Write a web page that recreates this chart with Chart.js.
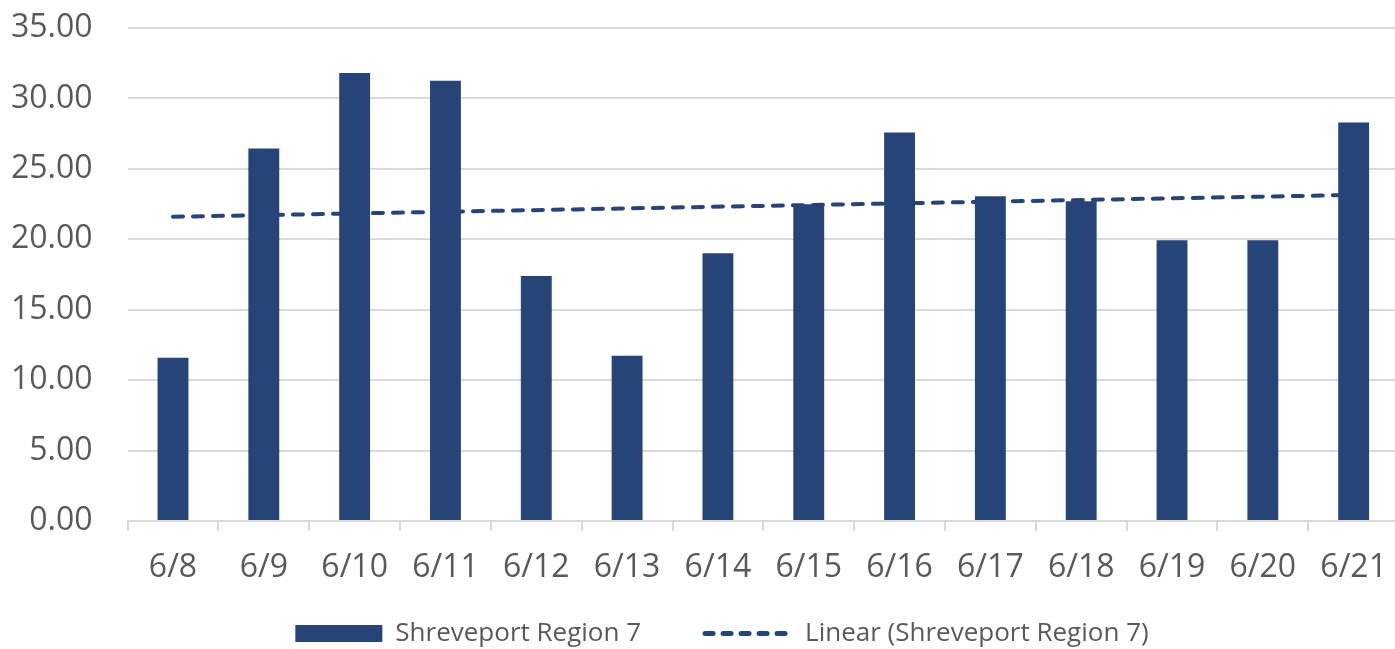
<!DOCTYPE html>
<html lang="en">

<head>
    <meta charset="UTF-8">
    <title>Shreveport Region 7</title>
    <script src="https://cdn.jsdelivr.net/npm/chart.js"></script>
    <style>
        body { margin: 0; overflow: hidden; background: #fff; }
        #wrap { width: 1405px; height: 649px; }
    </style>
</head>

<body>
    <div id="wrap"><canvas id="chart"></canvas></div>

    <script>
        // categories and values
        var days = ['6/8', '6/9', '6/10', '6/11', '6/12', '6/13', '6/14', '6/15', '6/16', '6/17', '6/18', '6/19', '6/20', '6/21'];
        var regionValues = [11.6, 26.45, 31.8, 31.26, 17.4, 11.74, 19.02, 22.49, 27.58, 23.05, 22.7, 19.94, 19.94, 28.29];
        // trendline: only the two ends are read, the line spans the gap
        var trendValues = [21.6, null, null, null, null, null, null, null, null, null, null, null, null, 23.15];
        var yTicks = [0, 5, 10, 15, 20, 25, 30, 35];

        var navy = '#264478';
        var grey = '#595959';
        var gridGrey = '#d9d9d9';
        var fontName = "'Open Sans', sans-serif";

        // nudge the legend so it sits like the excel one (closer to the axis, a bit right)
        var legendNudge = {
            id: 'legendNudge',
            afterLayout: function (chart) {
                var lg = chart.legend;
                lg.left += 64;
                lg.top -= 49;
                lg.bottom -= 49;
            }
        };

        new Chart(document.getElementById('chart'), {
            data: {
                labels: days,
                datasets: [{
                    type: 'bar',
                    label: 'Shreveport Region 7',
                    data: regionValues,
                    backgroundColor: navy,
                    borderColor: navy,
                    borderWidth: 0,
                    barPercentage: 0.34,
                    categoryPercentage: 1,
                    pointStyle: 'rect',
                    order: 1
                }, {
                    type: 'line',
                    label: 'Linear (Shreveport Region 7)',
                    data: trendValues,
                    spanGaps: true,
                    borderColor: navy,
                    backgroundColor: navy,
                    borderWidth: 4,
                    borderDash: [10, 10],
                    borderCapStyle: 'round',
                    pointRadius: 0,
                    pointStyle: 'line',
                    order: 0
                }]
            },
            plugins: [legendNudge],
            options: {
                responsive: true,
                maintainAspectRatio: false,
                animation: false,
                layout: {
                    padding: { left: -24, right: 1, top: 28, bottom: -56.5 }
                },
                scales: {
                    x: {
                        offset: true,
                        grid: {
                            offset: true,
                            drawOnChartArea: false,
                            drawTicks: true,
                            tickLength: 10,
                            color: gridGrey,
                            lineWidth: 2
                        },
                        border: { color: gridGrey, width: 2 },
                        ticks: {
                            color: grey,
                            padding: 18,
                            font: { family: fontName, size: 32 }
                        }
                    },
                    y: {
                        min: 0,
                        max: 35,
                        afterFit: function (scale) {
                            scale.paddingTop = 0;
                            scale.paddingBottom = 0;
                        },
                        afterBuildTicks: function (scale) {
                            scale.ticks = yTicks.map(function (v) { return { value: v }; });
                        },
                        grid: {
                            color: gridGrey,
                            lineWidth: 2,
                            drawTicks: false
                        },
                        border: { display: false },
                        ticks: {
                            color: grey,
                            padding: 35,
                            font: { family: fontName, size: 32 },
                            callback: function (v) { return Number(v).toFixed(2); }
                        }
                    }
                },
                plugins: {
                    tooltip: { enabled: false },
                    legend: {
                        position: 'bottom',
                        labels: {
                            usePointStyle: true,
                            pointStyleWidth: 87,
                            boxHeight: 17,
                            padding: 64,
                            color: grey,
                            font: { family: fontName, size: 26 },
                            generateLabels: function (chart) {
                                var items = Chart.defaults.plugins.legend.labels.generateLabels(chart);
                                items.sort(function (a, b) { return a.datasetIndex - b.datasetIndex; });
                                items.forEach(function (it) {
                                    if (it.datasetIndex === 1) {
                                        it.lineDash = [8, 10];
                                        it.lineCap = 'round';
                                        it.lineWidth = 5;
                                    }
                                });
                                return items;
                            }
                        }
                    }
                }
            }
        });
    </script>
</body>

</html>
